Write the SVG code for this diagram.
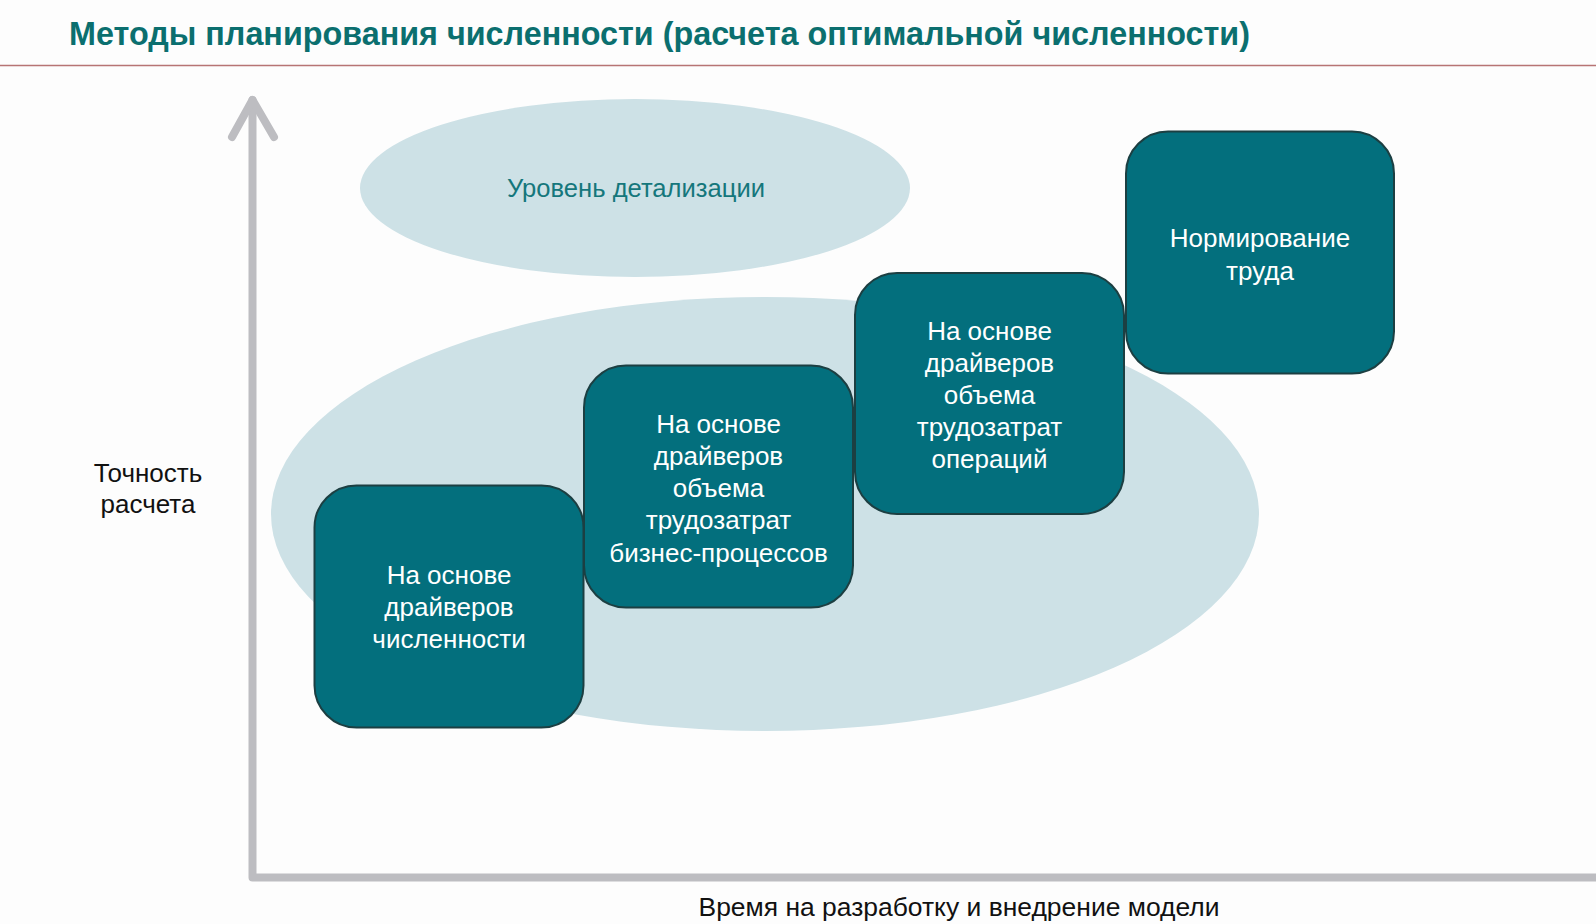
<svg xmlns="http://www.w3.org/2000/svg" width="1596" height="924" viewBox="0 0 1596 924">
<style>
.t{font-family:"Liberation Sans",Arial,sans-serif}
.box{fill:#036f7d;stroke:#1c3f42;stroke-width:2}
.bt{font-family:"Liberation Sans",Arial,sans-serif;font-size:26px;fill:#ffffff;text-anchor:middle}
.ell{fill:#cde1e6}
.axis{stroke:#bdbdc1;stroke-width:8;fill:none;stroke-linecap:round;stroke-linejoin:round}
</style>
<rect x="0" y="0" width="1596" height="924" fill="#fdfdfd"/>
<text class="t" x="69" y="45" font-size="33" font-weight="bold" fill="#0b6f6f" textLength="1181" lengthAdjust="spacingAndGlyphs">Методы планирования численности (расчета оптимальной численности)</text>
<line x1="0" y1="65.5" x2="1596" y2="65.5" stroke="#b77474" stroke-width="1.5"/>
<g id="ellipses">
<ellipse class="ell" cx="635" cy="188" rx="275" ry="89"/>
<ellipse class="ell" cx="765" cy="514" rx="494" ry="217"/>
<text class="t" x="636" y="197" font-size="25" fill="#15777c" text-anchor="middle" textLength="258" lengthAdjust="spacingAndGlyphs">Уровень детализации</text>
</g>
<g id="connectors">
<path class="axis" d="M252.5 100 L252.5 877.5 L1600 877.5"/>
<path class="axis" d="M232 137 L252.5 100 L274 137"/>
</g>
<g id="node1">
<rect class="box" x="314.5" y="485.5" width="269" height="242" rx="42"/>
<text class="bt"><tspan x="449" y="584">На основе</tspan><tspan x="449" y="616">драйверов</tspan><tspan x="449" y="648">численности</tspan></text>
</g>
<g id="node2">
<rect class="box" x="584" y="365.5" width="269" height="242" rx="42"/>
<text class="bt"><tspan x="718.5" y="433">На основе</tspan><tspan x="718.5" y="465">драйверов</tspan><tspan x="718.5" y="497">объема</tspan><tspan x="718.5" y="529">трудозатрат</tspan><tspan x="718.5" y="562">бизнес-процессов</tspan></text>
</g>
<g id="node3">
<rect class="box" x="855" y="273" width="269" height="241" rx="42"/>
<text class="bt"><tspan x="989.5" y="340">На основе</tspan><tspan x="989.5" y="372">драйверов</tspan><tspan x="989.5" y="404">объема</tspan><tspan x="989.5" y="436">трудозатрат</tspan><tspan x="989.5" y="468">операций</tspan></text>
</g>
<g id="node4">
<rect class="box" x="1126" y="131.5" width="268" height="242" rx="42"/>
<text class="bt"><tspan x="1260" y="247">Нормирование</tspan><tspan x="1260" y="280">труда</tspan></text>
</g>
<g id="labels">
<text class="t" font-size="26" fill="#111111" text-anchor="middle"><tspan x="148" y="482">Точность</tspan><tspan x="148" y="513">расчета</tspan></text>
<text class="t" x="959" y="916" font-size="25" fill="#111111" text-anchor="middle" textLength="521" lengthAdjust="spacingAndGlyphs">Время на разработку и внедрение модели</text>
</g>
</svg>
